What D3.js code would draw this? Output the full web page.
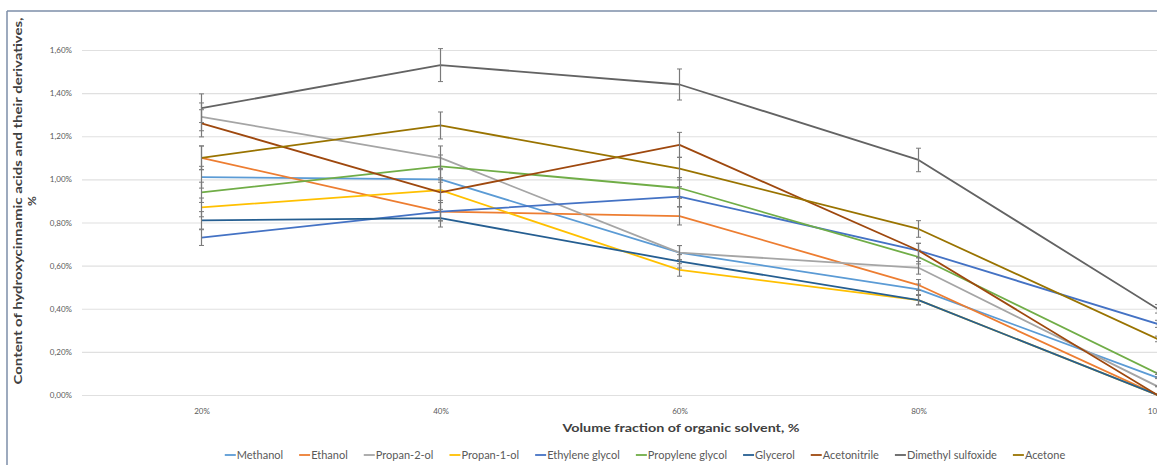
<!DOCTYPE html>
<html><head><meta charset="utf-8">
<script src="https://cdn.jsdelivr.net/npm/d3@7"></script>
<style>
html,body{margin:0;padding:0;background:#fff;overflow:hidden;}
text{font-family:Lato,"Open Sans",sans-serif;}
</style></head>
<body><svg id="c" width="1157" height="465"></svg>
<script>
const categories = ["20%","40%","60%","80%","100%"];
const seriesNames = ["Methanol","Ethanol","Propan-2-ol","Propan-1-ol","Ethylene glycol","Propylene glycol","Glycerol","Acetonitrile","Dimethyl sulfoxide","Acetone"];
const methanol        = [1.01, 1.00, 0.66, 0.49, 0.08];
const ethanol         = [1.10, 0.85, 0.83, 0.51, 0.00];
const propan2ol       = [1.29, 1.10, 0.66, 0.59, 0.04];
const propan1ol       = [0.87, 0.95, 0.58, 0.44, 0.00];
const ethyleneGlycol  = [0.73, 0.85, 0.92, 0.67, 0.33];
const propyleneGlycol = [0.94, 1.06, 0.96, 0.64, 0.10];
const glycerol        = [0.81, 0.82, 0.62, 0.44, 0.00];
const acetonitrile    = [1.26, 0.94, 1.16, 0.67, 0.00];
const dmso            = [1.33, 1.53, 1.44, 1.09, 0.40];
const acetone         = [1.10, 1.25, 1.05, 0.77, 0.26];
const seriesValues = [methanol, ethanol, propan2ol, propan1ol, ethyleneGlycol, propyleneGlycol, glycerol, acetonitrile, dmso, acetone];
const colors = ["#5B9BD5","#ED7D31","#A5A5A5","#FFC000","#4472C4","#70AD47","#255E91","#9E480E","#636363","#997300"];
const yTicks = [0,0.2,0.4,0.6,0.8,1.0,1.2,1.4,1.6];
const errorPct = 0.05;
const yTitle = "Content of hydroxycinnamic acids and their derivatives,";
const yTitle2 = "%";
const xTitle = "Volume fraction of organic solvent, %";

const svg = d3.select("#c");
svg.append("rect").attr("width",1157).attr("height",465).attr("fill","#fff");
// frame
svg.append("line").attr("x1",7).attr("x2",7).attr("y1",11).attr("y2",470).attr("stroke","#7d8ea8").attr("stroke-width",1.5);
svg.append("line").attr("x1",7).attr("x2",1160).attr("y1",11).attr("y2",11).attr("stroke","#7d8ea8").attr("stroke-width",1.5);

const L = 82, R = 1277, T = 50, B = 395;
const x = d3.scalePoint().domain(categories).range([L,R]).padding(0.5);
const y = d3.scaleLinear().domain([0,1.6]).range([B,T]);
const fmt = v => d3.format(".2f")(v).replace(".",",")+"%";

// grid
const yAxis = d3.axisLeft(y).tickValues(yTicks).tickFormat(fmt).tickSize(-(R-L)).tickPadding(10);
const gy = svg.append("g").attr("transform",`translate(${L},0)`).call(yAxis);
gy.select(".domain").remove();
gy.selectAll(".tick line").attr("stroke","#e0e0e0").attr("stroke-width",1.2);
gy.selectAll(".tick text").attr("fill","#595959").attr("font-size",8).style("font-family","Lato");

const xAxis = d3.axisBottom(x).tickSize(0).tickPadding(13);
const gx = svg.append("g").attr("transform",`translate(0,${B})`).call(xAxis);
gx.select(".domain").remove();
gx.selectAll(".tick text").attr("fill","#595959").attr("font-size",8).style("font-family","Lato");

// series
const line = d3.line().x((d,i)=>x(categories[i])).y(d=>y(d));
seriesValues.forEach((vals,si)=>{
  const g = svg.append("g");
  g.append("path").datum(vals).attr("d",line).attr("fill","none").attr("stroke",colors[si]).attr("stroke-width",1.8).attr("stroke-linejoin","round");
  vals.forEach((v,i)=>{
    if (v<=0) return;
    const cx = x(categories[i]);
    const y1 = y(v*(1+errorPct)), y2 = y(v*(1-errorPct));
    g.append("line").attr("x1",cx).attr("x2",cx).attr("y1",y1).attr("y2",y2).attr("stroke","#7a7a7a").attr("stroke-width",1.2);
    [y1,y2].forEach(yy=>g.append("line").attr("x1",cx-2.5).attr("x2",cx+2.5).attr("y1",yy).attr("y2",yy).attr("stroke","#7a7a7a").attr("stroke-width",1));
  });
});

// axis titles
svg.append("text").attr("transform","translate(22,201) rotate(-90)").attr("text-anchor","middle")
  .attr("font-size",12).attr("font-weight","bold").attr("fill","#404040")
  .attr("textLength",367).attr("lengthAdjust","spacingAndGlyphs").text(yTitle);
svg.append("text").attr("transform","translate(36,201) rotate(-90)").attr("text-anchor","middle")
  .attr("font-size",12).attr("font-weight","bold").attr("fill","#404040").text(yTitle2);
svg.append("text").attr("x",681).attr("y",432).attr("text-anchor","middle")
  .attr("font-size",12).attr("font-weight","bold").attr("fill","#404040")
  .attr("textLength",237).attr("lengthAdjust","spacingAndGlyphs").text(xTitle);

// legend
const lg = svg.append("g");
const items = seriesNames.map((n,i)=>{
  const it = lg.append("g");
  it.append("line").attr("x1",0).attr("x2",11).attr("y1",0).attr("y2",0).attr("stroke",colors[i]).attr("stroke-width",1.8);
  const t = it.append("text").attr("x",12).attr("y",3.6).attr("font-size",11).attr("fill","#595959").text(n);
  return {it, w: 12 + t.node().getComputedTextLength()};
});
const gap = 16;
const total = d3.sum(items,d=>d.w) + gap*(items.length-1);
let cx = 645 - total/2;
items.forEach(d=>{ d.it.attr("transform",`translate(${cx},455)`); cx += d.w + gap; });
</script></body></html>
